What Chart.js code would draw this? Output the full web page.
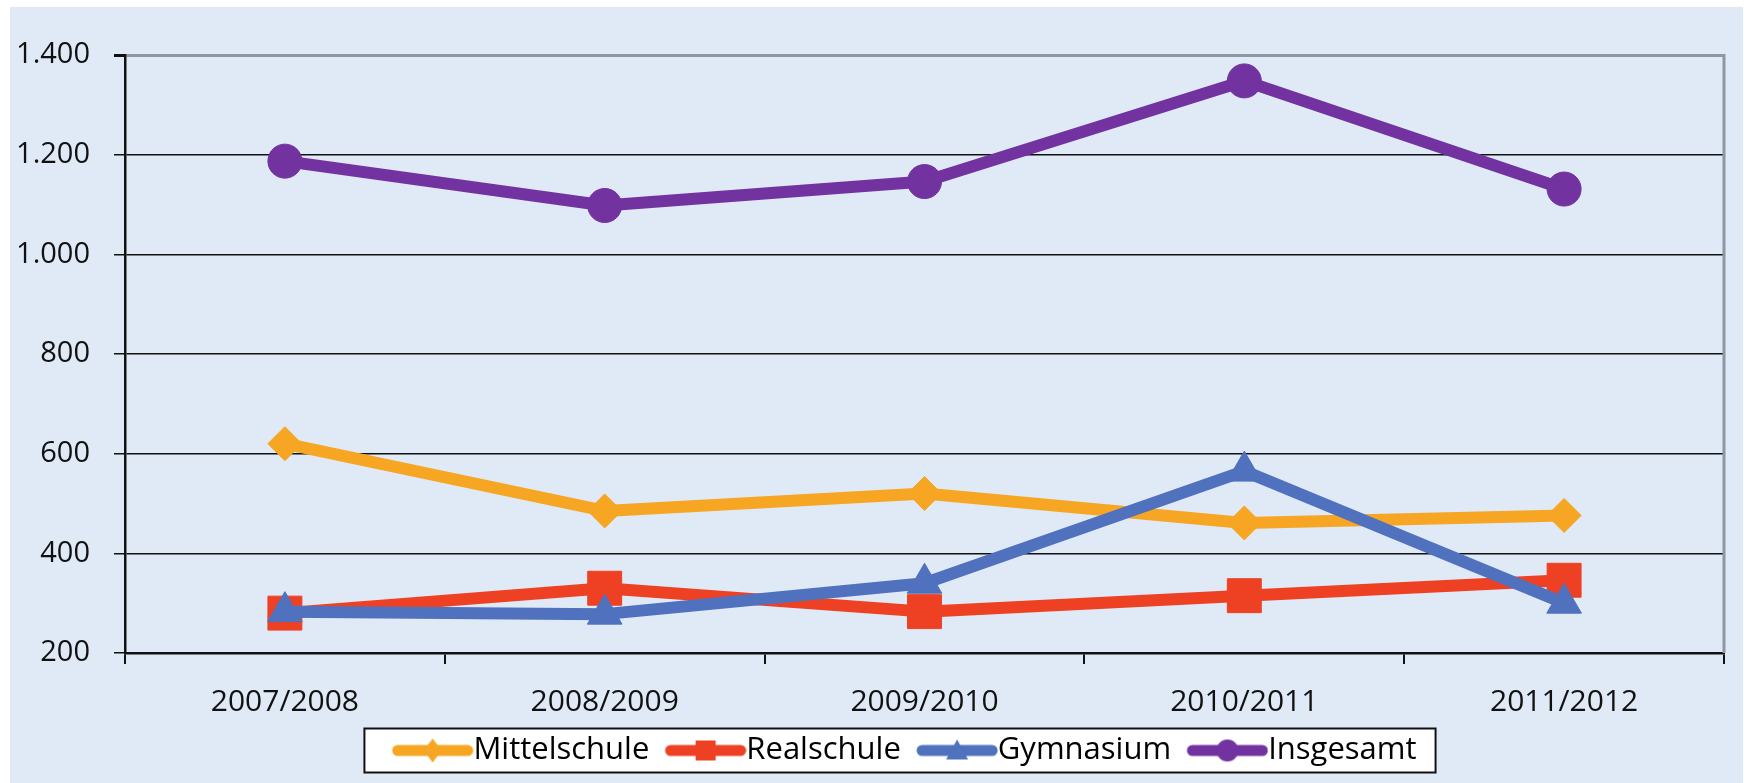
<!DOCTYPE html>
<html>
<head>
<meta charset="utf-8">
<script src="https://cdn.jsdelivr.net/npm/chart.js@4.4.1/dist/chart.umd.min.js"></script>
<style>
  html, body { margin: 0; padding: 0; background: #ffffff; }
  #wrap { position: relative; width: 1749px; height: 783px; }
</style>
</head>
<body>
<div id="wrap"><canvas id="chart"></canvas></div>
<script>
// Daten
const categories = ['2007/2008', '2008/2009', '2009/2010', '2010/2011', '2011/2012'];
const seriesNames = ['Mittelschule', 'Realschule', 'Gymnasium', 'Insgesamt'];
const mittelschule = [620, 485, 520, 461, 476];
const realschule = [280, 330, 283, 315, 346];
const gymnasium = [283, 278, 340, 565, 300];
const insgesamt = [1187, 1098, 1146, 1348, 1131];
const yTicks = [200, 400, 600, 800, 1000, 1200, 1400];

const colors = ['#f6a623', '#ee4124', '#4f71be', '#7232a0'];
const bgBlue = '#dfeaf6';

// Legende: Symbolbreite und Abstaende
const legendFont = 31;
const legendPad = 10;
const iconVisible = 82;
const boxW = 71.5;

// Zahlen im deutschen Format (1.400)
function formatDe(v) {
    return String(v).replace(/\B(?=(\d{3})+(?!\d))/g, '.');
}

// Legenden-Symbol: Linie mit Marker in der Mitte (links transparent)
function makeIcon(color, shape) {
    const c = document.createElement('canvas');
    const w = Math.round(boxW + legendFont);
    c.width = w;
    c.height = 30;
    const g = c.getContext('2d');
    const x0 = w - iconVisible;
    const mx = x0 + iconVisible / 2;
    g.strokeStyle = color;
    g.fillStyle = color;
    g.lineWidth = 11;
    g.lineCap = 'round';
    g.beginPath();
    g.moveTo(x0 + 6, 15);
    g.lineTo(w - 6, 15);
    g.stroke();
    g.beginPath();
    if (shape === 'diamond') {
        g.moveTo(mx, 3); g.lineTo(mx + 9, 15); g.lineTo(mx, 27); g.lineTo(mx - 9, 15);
    } else if (shape === 'square') {
        g.rect(mx - 10, 5, 20, 20);
    } else if (shape === 'triangle') {
        g.moveTo(mx, 4); g.lineTo(mx + 11, 24); g.lineTo(mx - 11, 24);
    } else {
        g.arc(mx, 15, 11, 0, Math.PI * 2);
    }
    g.closePath();
    g.fill();
    return c;
}
const legendIcons = [
    makeIcon(colors[0], 'diamond'),
    makeIcon(colors[1], 'square'),
    makeIcon(colors[2], 'triangle'),
    makeIcon(colors[3], 'circle')
];

// Hintergrund, rechter Rand und Legendenrahmen
const framePlugin = {
    id: 'framePlugin',
    afterLayout(chart) {
        // Legende etwas nach rechts wie im Original
        chart.legend.left += 35;
        chart.legend.right += 35;
    },
    beforeDraw(chart) {
        const ctx = chart.ctx;
        ctx.save();
        ctx.fillStyle = '#ffffff';
        ctx.fillRect(0, 0, chart.width, chart.height);
        ctx.fillStyle = bgBlue;
        ctx.fillRect(10, 7, 1733, 776);
        const hb = chart.legend.legendHitBoxes;
        if (hb && hb.length) {
            const first = hb[0], last = hb[hb.length - 1];
            const cy = first.top + first.height / 2;
            const x0 = first.left + boxW + legendFont / 2 - iconVisible - 27;
            const x1 = last.left + last.width + 19;
            ctx.fillStyle = '#ffffff';
            ctx.fillRect(x0, cy - 22, x1 - x0, 44);
            ctx.strokeStyle = '#111111';
            ctx.lineWidth = 2;
            ctx.strokeRect(x0, cy - 22, x1 - x0, 44);
        }
        ctx.restore();
    },
    beforeDatasetsDraw(chart) {
        const a = chart.chartArea;
        const ctx = chart.ctx;
        ctx.save();
        ctx.strokeStyle = '#8c97a3';
        ctx.lineWidth = 3;
        ctx.beginPath();
        ctx.moveTo(a.right, a.top - 1);
        ctx.lineTo(a.right, a.bottom);
        ctx.stroke();
        ctx.restore();
    }
};

const lineData = [mittelschule, realschule, gymnasium, insgesamt];
const pointStyles = ['rectRot', 'rect', 'triangle', 'circle'];
const pointRadii = [17, 24, 20, 17];

const datasets = seriesNames.map((name, i) => ({
    label: name,
    data: lineData[i],
    borderColor: colors[i],
    backgroundColor: colors[i],
    borderWidth: 12,
    borderJoinStyle: 'round',
    pointStyle: pointStyles[i],
    pointRadius: pointRadii[i],
    pointBorderWidth: 1,
    pointBackgroundColor: colors[i],
    pointBorderColor: colors[i],
    tension: 0,
    order: 4 - i
}));

const ctx = document.getElementById('chart').getContext('2d');
const chart = new Chart(ctx, {
    type: 'line',
    data: { labels: categories, datasets: datasets },
    plugins: [framePlugin],
    options: {
        responsive: true,
        maintainAspectRatio: false,
        animation: false,
        devicePixelRatio: 1,
        layout: { padding: { top: 55, right: 16, bottom: 7, left: 0 } },
        plugins: {
            tooltip: { enabled: false },
            legend: {
                position: 'bottom',
                labels: {
                    sort: (a, b) => a.datasetIndex - b.datasetIndex,
                    usePointStyle: true,
                    pointStyleWidth: boxW,
                    padding: legendPad,
                    color: '#000000',
                    font: { family: 'Open Sans', size: legendFont },
                    generateLabels(chart) {
                        const items = Chart.defaults.plugins.legend.labels.generateLabels(chart);
                        items.forEach(it => { it.pointStyle = legendIcons[it.datasetIndex]; });
                        return items;
                    }
                }
            }
        },
        scales: {
            x: {
                offset: true,
                afterFit(scale) { scale.height = 72; },
                grid: {
                    offset: true,
                    drawOnChartArea: false,
                    drawTicks: true,
                    tickLength: 11,
                    color: '#111111',
                    lineWidth: 2
                },
                border: { display: true, color: '#111111', width: 2.5 },
                ticks: {
                    color: '#111111',
                    padding: 20,
                    maxRotation: 0,
                    font: { family: 'Open Sans', size: 30 }
                }
            },
            y: {
                min: yTicks[0],
                max: yTicks[yTicks.length - 1],
                afterFit(scale) { scale.width = 125; },
                afterBuildTicks(scale) { scale.ticks = yTicks.map(v => ({ value: v })); },
                grid: {
                    color: c => (c.tick && c.tick.value === 1400 ? '#8c97a3' : '#111111'),
                    lineWidth: c => (c.tick && c.tick.value === 1400 ? 3 : 1.5),
                    tickColor: '#111111',
                    tickLength: 11
                },
                border: { display: true, color: '#111111', width: 2.5 },
                ticks: {
                    color: '#111111',
                    padding: 24,
                    font: { family: 'Open Sans', size: 29 },
                    callback: v => formatDe(v)
                }
            }
        }
    }
});
</script>
</body>
</html>
